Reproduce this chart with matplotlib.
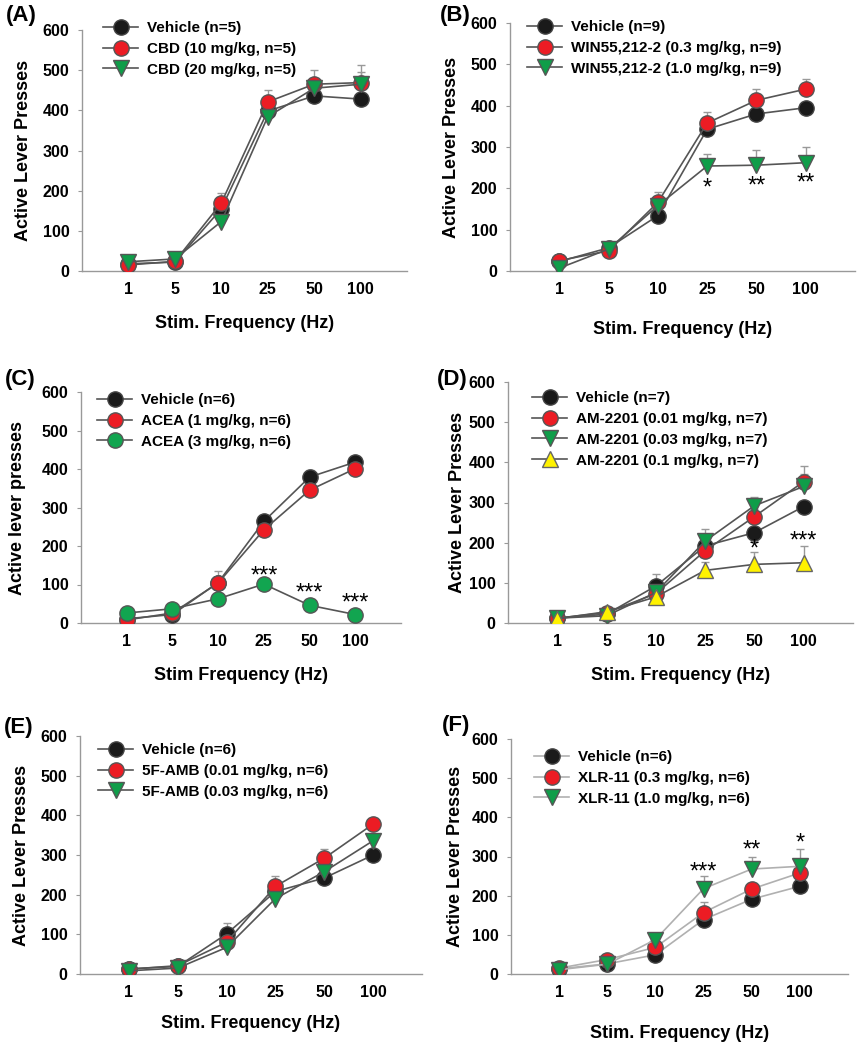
import matplotlib
matplotlib.use("Agg")
import matplotlib.pyplot as plt
import numpy as np

plt.rcParams['font.family'] = ['Liberation Sans', 'DejaVu Sans']
plt.rcParams['font.weight'] = 'bold'

W, H = 863, 1050

# --- Data ---
freq_labels = ['1', '5', '10', '25', '50', '100']

# (A) CBD
a_labels = ['Vehicle (n=5)', 'CBD (10 mg/kg, n=5)', 'CBD (20 mg/kg, n=5)']
a_veh = [18, 22, 155, 398, 436, 428]
a_cbd10 = [15, 24, 169, 421, 465, 469]
a_cbd20 = [23, 30, 123, 384, 455, 465]
a_veh_err = [3, 3, 10, 20, 12, 8]
a_cbd10_err = [3, 4, 24, 30, 36, 43]
a_cbd20_err = [3, 4, 8, 15, 15, 30]

# (B) WIN55,212-2
b_labels = ['Vehicle (n=9)', 'WIN55,212-2 (0.3 mg/kg, n=9)', 'WIN55,212-2 (1.0 mg/kg, n=9)']
b_veh = [23, 56, 134, 343, 380, 395]
b_win03 = [25, 49, 166, 358, 413, 440]
b_win10 = [7, 53, 158, 254, 256, 262]
b_veh_err = [3, 5, 12, 15, 12, 12]
b_win03_err = [3, 5, 25, 26, 28, 25]
b_win10_err = [3, 5, 20, 30, 37, 39]
b_stars = ['', '', '', '*', '**', '**']
b_star_y = [0, 0, 0, 200, 205, 212]

# (C) ACEA
c_labels = ['Vehicle (n=6)', 'ACEA (1 mg/kg, n=6)', 'ACEA (3 mg/kg, n=6)']
c_veh = [11, 22, 105, 264, 379, 418]
c_acea1 = [8, 26, 104, 242, 345, 401]
c_acea3 = [26, 37, 63, 101, 46, 22]
c_veh_err = [2, 3, 30, 15, 19, 10]
c_acea1_err = [2, 3, 15, 12, 28, 18]
c_acea3_err = [2, 3, 5, 8, 5, 3]
c_stars = ['', '', '', '***', '***', '***']
c_star_y = [0, 0, 0, 120, 76, 50]

# (D) AM-2201
d_labels = ['Vehicle (n=7)', 'AM-2201 (0.01 mg/kg, n=7)',
            'AM-2201 (0.03 mg/kg, n=7)', 'AM-2201 (0.1 mg/kg, n=7)']
d_veh = [12, 22, 92, 192, 225, 290]
d_am001 = [12, 26, 73, 180, 265, 352]
d_am003 = [12, 18, 76, 204, 292, 340]
d_am01 = [11, 28, 65, 131, 146, 150]
d_veh_err = [2, 3, 29, 15, 15, 12]
d_am001_err = [2, 3, 10, 20, 20, 40]
d_am003_err = [2, 3, 10, 30, 22, 30]
d_am01_err = [2, 3, 8, 20, 30, 42]
d_stars = ['', '', '', '', '*', '***']
d_star_y = [0, 0, 0, 0, 182, 202]

# (E) 5F-AMB
e_labels = ['Vehicle (n=6)', '5F-AMB (0.01 mg/kg, n=6)', '5F-AMB (0.03 mg/kg, n=6)']
e_veh = [13, 19, 101, 208, 242, 300]
e_amb001 = [12, 21, 80, 221, 292, 378]
e_amb003 = [8, 15, 67, 190, 258, 336]
e_veh_err = [2, 3, 27, 15, 12, 8]
e_amb001_err = [2, 3, 10, 26, 24, 10]
e_amb003_err = [2, 3, 8, 12, 12, 8]

# (F) XLR-11
f_labels = ['Vehicle (n=6)', 'XLR-11 (0.3 mg/kg, n=6)', 'XLR-11 (1.0 mg/kg, n=6)']
f_veh = [13, 26, 49, 139, 191, 224]
f_xlr03 = [15, 37, 68, 157, 217, 258]
f_xlr10 = [11, 25, 88, 218, 268, 275]
f_veh_err = [2, 3, 5, 10, 10, 10]
f_xlr03_err = [2, 3, 8, 28, 15, 15]
f_xlr10_err = [2, 3, 8, 31, 30, 44]
f_stars = ['', '', '', '***', '**', '*']
f_star_y = [0, 0, 0, 260, 316, 332]

# --- Styles ---
BLACK = dict(marker='o', mfc='#1a1a1a', mec='#444444', ms=11)
RED = dict(marker='o', mfc='#ec1c24', mec='#555555', ms=11)
GREEN_V = dict(marker='v', mfc='#0f9d49', mec='#555555', ms=11)
GREEN_O = dict(marker='o', mfc='#12a550', mec='#555555', ms=11)
YELLOW = dict(marker='^', mfc='#fff200', mec='#666666', ms=11)

fig = plt.figure(figsize=(W / 100, H / 100), dpi=100)


def add_ax(l, r, t, b):
    return fig.add_axes([l / W, 1 - b / H, (r - l) / W, (b - t) / H])


def fig_text(x, y, s, **kw):
    fig.text(x / W, 1 - y / H, s, **kw)


def panel(box, series, letter, letter_xy, ylabel, ylabel_x, xlabel, xlabel_y,
          leg_xy, line_color='#555555', stars=None, star_y=None):
    ax = add_ax(*box)
    x = np.arange(1, 7)
    for vals, err, style, lab in series:
        ax.errorbar(x, vals, yerr=[np.zeros(6), err], fmt='none',
                    ecolor='#999999', elinewidth=1.0, capsize=3, zorder=1)
    for vals, err, style, lab in series:
        ax.plot(x, vals, color=line_color, lw=1.2, mew=1.0, label=lab,
                zorder=3, **style)
    if stars is not None:
        for xi, s, sy in zip(x, stars, star_y):
            if s:
                ax.text(xi, sy, s, ha='center', va='center', fontsize=17,
                        fontweight='normal', zorder=5)
    ax.set_xlim(0, 7)
    ax.set_ylim(0, 600)
    ax.set_xticks(x)
    ax.set_xticklabels(freq_labels)
    ax.set_yticks(range(0, 601, 100))
    for side in ('top', 'right'):
        ax.spines[side].set_visible(False)
    for side in ('left', 'bottom'):
        ax.spines[side].set_color('#999999')
        ax.spines[side].set_linewidth(1.0)
    ax.tick_params(axis='y', length=3, color='#999999', labelsize=11.5, pad=6)
    ax.tick_params(axis='x', length=0, labelsize=11.5, pad=8)
    for t in ax.get_xticklabels() + ax.get_yticklabels():
        t.set_fontweight('bold')
    ax.legend(loc='upper left', bbox_to_anchor=(leg_xy[0] / W, 1 - leg_xy[1] / H),
              bbox_transform=fig.transFigure, frameon=False, borderpad=0,
              borderaxespad=0, handlelength=2.3, handletextpad=0.6,
              labelspacing=0.45, prop=dict(size=11, weight='bold'))
    fig_text(letter_xy[0], letter_xy[1], letter, fontsize=16, fontweight='bold',
             ha='left', va='center')
    fig_text(ylabel_x, (box[2] + box[3]) / 2, ylabel, fontsize=13,
             fontweight='bold', rotation=90, ha='center', va='center')
    fig_text((box[0] + box[1]) / 2, xlabel_y, xlabel, fontsize=13,
             fontweight='bold', ha='center', va='center')
    return ax


panel((82, 407, 30, 271),
      [(a_veh, a_veh_err, BLACK, a_labels[0]),
       (a_cbd10, a_cbd10_err, RED, a_labels[1]),
       (a_cbd20, a_cbd20_err, GREEN_V, a_labels[2])],
      '(A)', (6, 15), 'Active Lever Presses', 24, 'Stim. Frequency (Hz)', 323,
      (103, 21))

panel((510, 855, 23, 271),
      [(b_veh, b_veh_err, BLACK, b_labels[0]),
       (b_win03, b_win03_err, RED, b_labels[1]),
       (b_win10, b_win10_err, GREEN_V, b_labels[2])],
      '(B)', (440, 15), 'Active Lever Presses', 452, 'Stim. Frequency (Hz)', 329,
      (527, 20), stars=b_stars, star_y=b_star_y)

panel((81, 401, 392, 623),
      [(c_veh, c_veh_err, BLACK, c_labels[0]),
       (c_acea1, c_acea1_err, RED, c_labels[1]),
       (c_acea3, c_acea3_err, GREEN_O, c_labels[2])],
      '(C)', (5, 380), 'Active lever presses', 18, 'Stim Frequency (Hz)', 676,
      (97, 393), stars=c_stars, star_y=c_star_y)

panel((508, 853, 382, 623),
      [(d_veh, d_veh_err, BLACK, d_labels[0]),
       (d_am001, d_am001_err, RED, d_labels[1]),
       (d_am003, d_am003_err, GREEN_V, d_labels[2]),
       (d_am01, d_am01_err, YELLOW, d_labels[3])],
      '(D)', (437, 380), 'Active Lever Presses', 457, 'Stim. Frequency (Hz)', 676,
      (532, 391), stars=d_stars, star_y=d_star_y)

panel((80, 422, 736, 974),
      [(e_veh, e_veh_err, BLACK, e_labels[0]),
       (e_amb001, e_amb001_err, RED, e_labels[1]),
       (e_amb003, e_amb003_err, GREEN_V, e_labels[2])],
      '(E)', (4, 727), 'Active Lever Presses', 21, 'Stim. Frequency (Hz)', 1023,
      (98, 743))

panel((511, 848, 739, 974),
      [(f_veh, f_veh_err, BLACK, f_labels[0]),
       (f_xlr03, f_xlr03_err, RED, f_labels[1]),
       (f_xlr10, f_xlr10_err, GREEN_V, f_labels[2])],
      '(F)', (442, 725), 'Active Lever Presses', 455, 'Stim. Frequency (Hz)', 1033,
      (534, 750), line_color='#b0b0b0', stars=f_stars, star_y=f_star_y)

fig.savefig('out.png', dpi=100)
